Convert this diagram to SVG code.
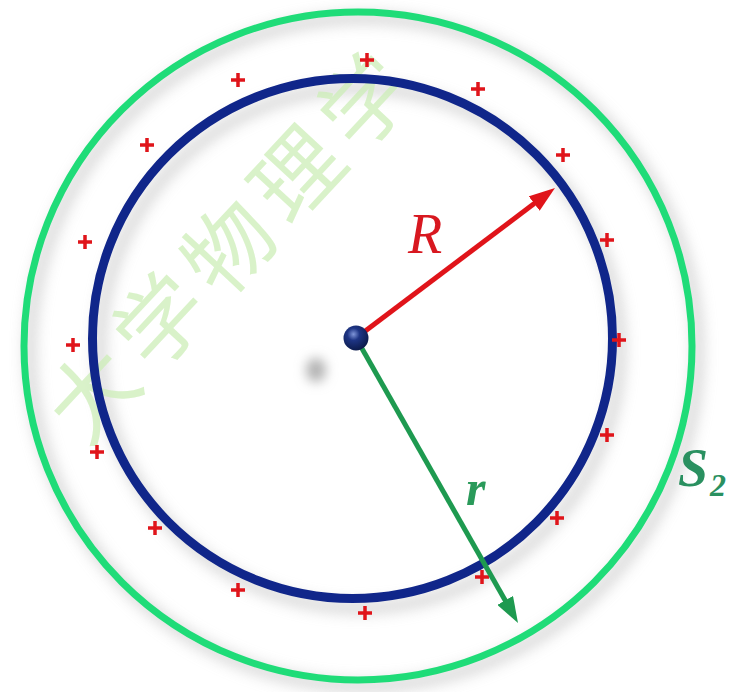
<svg xmlns="http://www.w3.org/2000/svg" width="740" height="692" viewBox="0 0 740 692">
<defs>
<style>
.plus{stroke:#e0141a;stroke-width:3.5;fill:none}
.lbl{font-family:"Liberation Serif","Times New Roman",serif;font-style:italic}
</style>
<filter id="blur" x="-20%" y="-20%" width="140%" height="140%"><feGaussianBlur stdDeviation="7"/></filter>
<filter id="blur2" x="-100%" y="-100%" width="300%" height="300%"><feGaussianBlur stdDeviation="6"/></filter>
<radialGradient id="ball" cx="0.4" cy="0.35" r="0.7">
<stop offset="0" stop-color="#7f95d8"/>
<stop offset="0.35" stop-color="#1e3585"/>
<stop offset="1" stop-color="#0a1845"/>
</radialGradient>
<marker id="headR" viewBox="0 0 26 18" refX="10" refY="9" markerWidth="26" markerHeight="18" markerUnits="userSpaceOnUse" orient="auto"><path d="M0,0 L26,9 L0,18 z" fill="#e0141a"/></marker>
<marker id="headG" viewBox="0 0 26 18" refX="10" refY="9" markerWidth="26" markerHeight="18" markerUnits="userSpaceOnUse" orient="auto"><path d="M0,0 L26,9 L0,18 z" fill="#1e9a50"/></marker>
<path id="pl" d="M-7,0 H7 M0,-7 V7"/>
</defs>
<rect width="740" height="692" fill="#ffffff"/>
<g id="shadows" filter="url(#blur)" fill="none" stroke="#c8c8c8" stroke-width="12" opacity="0.7">
<circle cx="364" cy="352" r="334"/>
<circle cx="360" cy="348" r="260"/>
</g>
<ellipse cx="316" cy="370" rx="10" ry="12" fill="#b0b0b0" filter="url(#blur2)"/>
<text transform="translate(86,448) rotate(-47)" x="0" y="0" font-family="'Noto Sans CJK SC',sans-serif" font-size="88" letter-spacing="12" fill="#cdeeb8" opacity="0.75">大学物理学</text>
<g id="S2">
<circle cx="358" cy="346" r="334" fill="none" stroke="#1fdc78" stroke-width="7"/>
<text class="lbl" x="678" y="486" font-size="54" font-weight="bold" fill="#2a9060">S<tspan font-size="32" dy="10" dx="2">2</tspan></text>
</g>
<g id="sphere">
<circle cx="352.5" cy="338.5" r="260" fill="none" stroke="#10268a" stroke-width="9"/>
</g>
<g id="charges">
<use href="#pl" class="plus" x="238" y="80"/>
<use href="#pl" class="plus" x="367" y="60"/>
<use href="#pl" class="plus" x="478" y="89"/>
<use href="#pl" class="plus" x="563" y="155"/>
<use href="#pl" class="plus" x="607" y="240"/>
<use href="#pl" class="plus" x="619" y="340"/>
<use href="#pl" class="plus" x="607" y="435"/>
<use href="#pl" class="plus" x="557" y="518"/>
<use href="#pl" class="plus" x="482" y="577"/>
<use href="#pl" class="plus" x="365" y="613"/>
<use href="#pl" class="plus" x="238" y="590"/>
<use href="#pl" class="plus" x="155" y="528"/>
<use href="#pl" class="plus" x="97" y="452"/>
<use href="#pl" class="plus" x="73" y="345"/>
<use href="#pl" class="plus" x="85" y="242"/>
<use href="#pl" class="plus" x="147" y="145"/>
</g>
<g id="connectors">
<line x1="356" y1="338" x2="542.2" y2="197.6" stroke="#e0141a" stroke-width="5" marker-end="url(#headR)"/>
<line x1="356" y1="338" x2="510.1" y2="609.1" stroke="#1e9a50" stroke-width="5" marker-end="url(#headG)"/>
</g>
<g id="labels">
<text class="lbl" x="408" y="253" font-size="56" fill="#d81820">R</text>
<text class="lbl" x="466" y="505" font-size="50" font-weight="bold" fill="#2a9a5a">r</text>
</g>
<g id="center">
<circle cx="356" cy="338" r="12.5" fill="url(#ball)"/>
</g>
</svg>
